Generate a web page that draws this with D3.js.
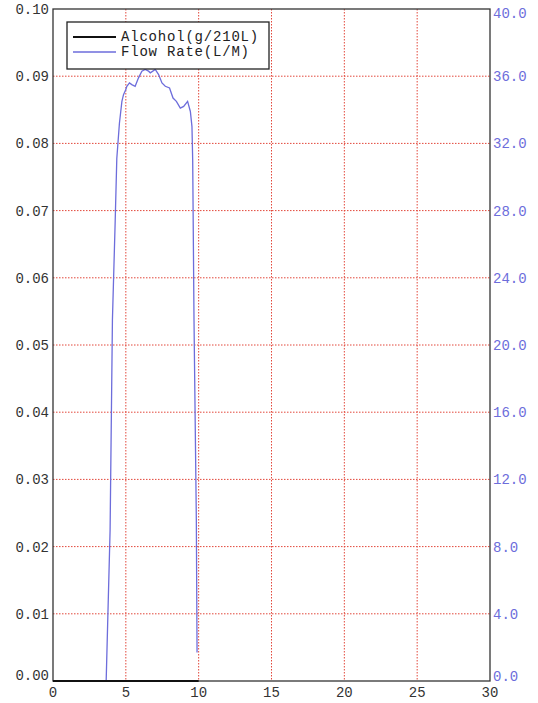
<!DOCTYPE html>
<html>
<head>
<meta charset="utf-8">
<script src="https://cdn.jsdelivr.net/npm/d3@7"></script>
<style>
  body { margin: 0; background: #fff; }
  text { font-family: "Liberation Mono", "DejaVu Sans Mono", monospace; }
</style>
</head>
<body>
<script>
var width = 538,
    height = 703;
var margin = {top: 9, right: 48, bottom: 22, left: 53};

// data
var timeVals = [0, 3.65, 3.92, 4.08, 4.27, 4.38, 4.56, 4.73, 4.84, 5.0, 5.07, 5.25, 5.41, 5.64, 5.87,
                6.10, 6.33, 6.56, 6.68, 7.02, 7.25, 7.48, 7.71, 8.0, 8.24, 8.47, 8.74, 8.97, 9.24,
                9.43, 9.54, 9.59, 9.68, 9.84, 9.89];
var flowVals = [0, 0, 9.0, 21.5, 27.4, 31.1, 33.2, 34.5, 34.9, 35.2, 35.4, 35.6, 35.5, 35.4, 35.9,
                36.3, 36.4, 36.3, 36.2, 36.4, 36.1, 35.6, 35.4, 35.3, 34.7, 34.5, 34.1, 34.2, 34.5,
                33.9, 33.0, 31.0, 21.5, 9.6, 1.7];
var alcTime = [0, 10];
var alcVals = [0, 0];

var xTicks = [0, 5, 10, 15, 20, 25, 30];
var yLeftTicks = [0, 0.01, 0.02, 0.03, 0.04, 0.05, 0.06, 0.07, 0.08, 0.09, 0.10];
var yRightTicks = [0, 4, 8, 12, 16, 20, 24, 28, 32, 36, 40];
var legendLabels = ["Alcohol(g/210L)", "Flow Rate(L/M)"];

var blue = "#6d6ddb",
    red = "#e2473a";

var svg = d3.select("body").append("svg")
    .attr("width", width)
    .attr("height", height);

var x = d3.scaleLinear().domain([0, 30]).range([margin.left, width - margin.right]);
var yL = d3.scaleLinear().domain([0, 0.10]).range([height - margin.bottom, margin.top]);
var yR = d3.scaleLinear().domain([0, 40]).range([height - margin.bottom, margin.top]);

// grid
svg.append("g").selectAll("line").data(xTicks.slice(1, -1))
  .enter().append("line")
    .attr("x1", d => x(d)).attr("x2", d => x(d))
    .attr("y1", margin.top).attr("y2", height - margin.bottom)
    .attr("stroke", red).attr("stroke-width", 1)
    .attr("stroke-dasharray", "1.5,1.5");

svg.append("g").selectAll("line").data(yLeftTicks.slice(1, -1))
  .enter().append("line")
    .attr("x1", margin.left).attr("x2", width - margin.right)
    .attr("y1", d => yL(d)).attr("y2", d => yL(d))
    .attr("stroke", red).attr("stroke-width", 1)
    .attr("stroke-dasharray", "1.5,1.5");

// frame
svg.append("rect")
    .attr("x", margin.left).attr("y", margin.top)
    .attr("width", width - margin.left - margin.right)
    .attr("height", height - margin.top - margin.bottom)
    .attr("fill", "none").attr("stroke", "#333").attr("stroke-width", 1.3);

// tick labels
svg.append("g").selectAll("text").data(yLeftTicks)
  .enter().append("text")
    .attr("x", margin.left - 4)
    .attr("y", d => yL(d) + (d == 0 ? -1 : 5))
    .attr("text-anchor", "end")
    .attr("font-size", 14)
    .attr("fill", "#333")
    .text(d => d3.format(".2f")(d));

svg.append("g").selectAll("text").data(yRightTicks)
  .enter().append("text")
    .attr("x", width - margin.right + 3)
    .attr("y", d => yR(d) + (d == 40 ? 9 : (d == 0 ? 0 : 5)))
    .attr("font-size", 14)
    .attr("fill", blue)
    .text(d => d3.format(".1f")(d));

svg.append("g").selectAll("text").data(xTicks)
  .enter().append("text")
    .attr("x", d => x(d))
    .attr("y", height - 6)
    .attr("text-anchor", "middle")
    .attr("font-size", 14)
    .attr("fill", "#333")
    .text(d => d);

// series
var flowLine = d3.line()
    .x((d, i) => x(timeVals[i]))
    .y(d => yR(d));

svg.append("path")
    .datum(flowVals)
    .attr("d", flowLine)
    .attr("fill", "none")
    .attr("stroke", blue)
    .attr("stroke-width", 1.3);

var alcLine = d3.line()
    .x((d, i) => x(alcTime[i]))
    .y(d => yL(d));

svg.append("path")
    .datum(alcVals)
    .attr("d", alcLine)
    .attr("fill", "none")
    .attr("stroke", "#111")
    .attr("stroke-width", 2);

// legend
var lg = svg.append("g");
lg.append("rect")
    .attr("x", 67).attr("y", 22)
    .attr("width", 202).attr("height", 47)
    .attr("fill", "#fff").attr("stroke", "#222").attr("stroke-width", 1.3);

lg.selectAll("line").data(legendLabels)
  .enter().append("line")
    .attr("x1", 73).attr("x2", 116)
    .attr("y1", (d, i) => 37 + i * 15).attr("y2", (d, i) => 37 + i * 15)
    .attr("stroke", (d, i) => i == 0 ? "#111" : blue)
    .attr("stroke-width", (d, i) => i == 0 ? 2 : 1.3);

lg.selectAll("text").data(legendLabels)
  .enter().append("text")
    .attr("x", 121)
    .attr("y", (d, i) => 41 + i * 15)
    .attr("font-size", 14)
    .attr("letter-spacing", 0.8)
    .attr("fill", "#222")
    .text(d => d);
</script>
</body>
</html>
